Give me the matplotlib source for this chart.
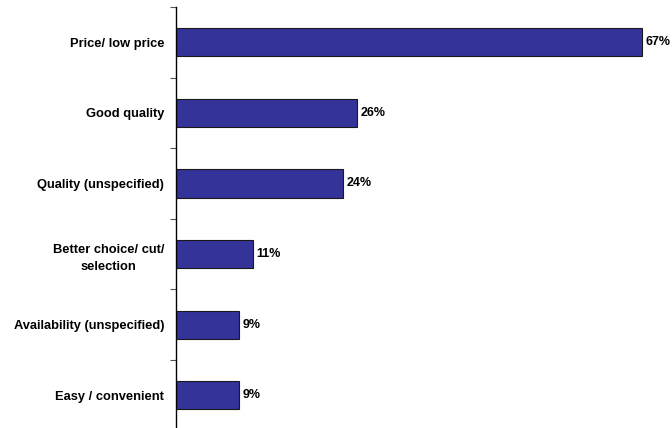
import matplotlib
matplotlib.use("Agg")
import matplotlib.pyplot as plt
import numpy as np

plt.rcParams['font.family'] = ['Liberation Sans', 'DejaVu Sans']

# reasons given, top to bottom
categories = [
    "Price/ low price",
    "Good quality",
    "Quality (unspecified)",
    "Better choice/ cut/\nselection",
    "Availability (unspecified)",
    "Easy / convenient",
]
percents = [67, 26, 24, 11, 9, 9]

fig = plt.figure(figsize=(6.72, 4.28), dpi=100)
ax = fig.add_axes([176 / 672, (428 - 430.5) / 428, (663 - 176) / 672, (430.5 - 7) / 428])

y = np.arange(len(categories))
ax.barh(y, percents, height=0.4, color="#333399", edgecolor="#1a1a1a", linewidth=0.8)

for yi, v in zip(y, percents):
    ax.text(v + 0.55, yi, f"{v}%", va="center", ha="left",
            fontsize=9, fontweight="bold", color="black")

ax.set_xlim(0, 70)
ax.set_ylim(len(categories) - 0.5, -0.5)

# labels at bar centres, tick marks at category boundaries
ax.set_yticks(y)
ax.set_yticklabels(categories, fontsize=9.3, fontweight="bold",
                   multialignment="center", linespacing=1.6)
ax.tick_params(axis="y", which="major", length=0, pad=8.5)
ax.set_yticks(np.arange(-0.5, len(categories) + 0.5, 1), minor=True)
ax.tick_params(axis="y", which="minor", length=4, width=0.8, color="#555555")
ax.set_xticks([])

for side in ("top", "right", "bottom"):
    ax.spines[side].set_visible(False)
ax.spines["left"].set_linewidth(1.0)

fig.savefig("out.png", dpi=100)
